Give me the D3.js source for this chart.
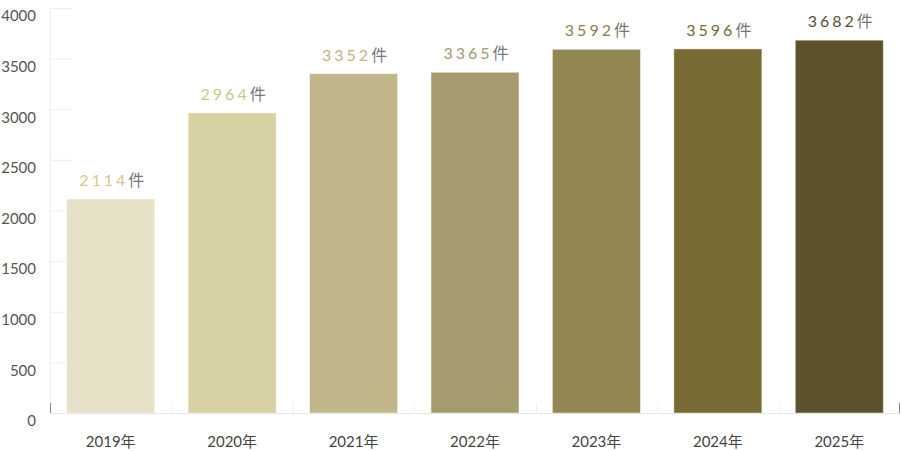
<!DOCTYPE html>
<html><head><meta charset="utf-8">
<script src="https://cdn.jsdelivr.net/npm/d3@7"></script>
<style>
html,body{margin:0;padding:0;background:#fff;}
svg{display:block;font-family:"Lato","Noto Sans CJK JP",sans-serif;}
</style></head>
<body><svg id="c" width="901" height="451"></svg>
<script>
const categories = ["2019年","2020年","2021年","2022年","2023年","2024年","2025年"];
const values = [2114,2964,3352,3365,3592,3596,3682];
const barColors = ["#e7e1c8","#d8d1a3","#c1b689","#a59b6f","#928652","#786a33","#5b522b"];
const labelColors = ["#d6c887","#d0c48e","#c0b387","#a49a70","#8e804f","#776a35","#5a5130"];
const yTicks = [0,500,1000,1500,2000,2500,3000,3500,4000];
const unit = "件";

const svg = d3.select("#c");
const m = {left:50, right:1, top:8, bottom:38};
const W = 901, H = 451;
const x = d3.scaleBand().domain(categories).range([m.left, W - m.right]).paddingInner(0.275).paddingOuter(0.1375);
const y = d3.scaleLinear().domain([0,4000]).range([H - m.bottom, m.top]);

// short gridlines
svg.append("g").selectAll("line").data(yTicks.filter(d=>d>0)).join("line")
  .attr("x1", m.left).attr("x2", m.left+22)
  .attr("y1", d=>y(d)+0.5).attr("y2", d=>y(d)+0.5)
  .attr("stroke","#eeeeee").attr("stroke-width",1);
// left axis line
svg.append("line").attr("x1",m.left+0.5).attr("x2",m.left+0.5).attr("y1",y(4000)).attr("y2",y(0))
  .attr("stroke","#eeeeee");

// y labels
svg.append("g").selectAll("text").data(yTicks).join("text")
  .attr("x",36).attr("y",d=>y(d)+8).attr("dy","0.35em")
  .attr("text-anchor","end").attr("font-size",15).attr("fill","#555")
  .text(d=>d);

// bars
svg.append("g").selectAll("rect").data(values).join("rect")
  .attr("x",(d,i)=>x(categories[i])).attr("width",x.bandwidth())
  .attr("y",d=>y(d)).attr("height",d=>y(0)-y(d))
  .attr("fill",(d,i)=>barColors[i])
  .attr("stroke","rgba(255,255,255,0.45)").attr("stroke-width",1);

// baseline
svg.append("line").attr("x1",m.left).attr("x2",W-m.right).attr("y1",y(0)+0.5).attr("y2",y(0)+0.5)
  .attr("stroke","#e6e6e6");
// category boundary ticks
const bounds = categories.slice(1).map(c=>x(c)-x.step()*x.paddingInner()/2);
svg.append("g").selectAll("line").data(bounds).join("line")
  .attr("x1",d=>Math.round(d)+0.5).attr("x2",d=>Math.round(d)+0.5)
  .attr("y1",y(0)-10).attr("y2",y(0)).attr("stroke","#eeeeee");
svg.append("line").attr("x1",m.left+0.5).attr("x2",m.left+0.5).attr("y1",y(0)-10).attr("y2",y(0)).attr("stroke","#888");
svg.append("line").attr("x1",W-1.5).attr("x2",W-1.5).attr("y1",y(0)-10).attr("y2",y(0)).attr("stroke","#888");

// x labels
svg.append("g").selectAll("text").data(categories).join("text")
  .attr("x",d=>x(d)+x.bandwidth()/2).attr("y",447)
  .attr("text-anchor","middle").attr("font-size",15).attr("fill","#444")
  .text(d=>d);

// value labels
const lab = svg.append("g").selectAll("text").data(values).join("text")
  .attr("x",(d,i)=>x(categories[i])+x.bandwidth()/2 + 1).attr("y",d=>y(d)-13)
  .attr("text-anchor","middle").attr("font-size",16);
lab.append("tspan").attr("letter-spacing","3px").attr("fill",(d,i)=>labelColors[i]).text(d=>d);
lab.append("tspan").attr("fill","#777").text(unit);
</script></body></html>
